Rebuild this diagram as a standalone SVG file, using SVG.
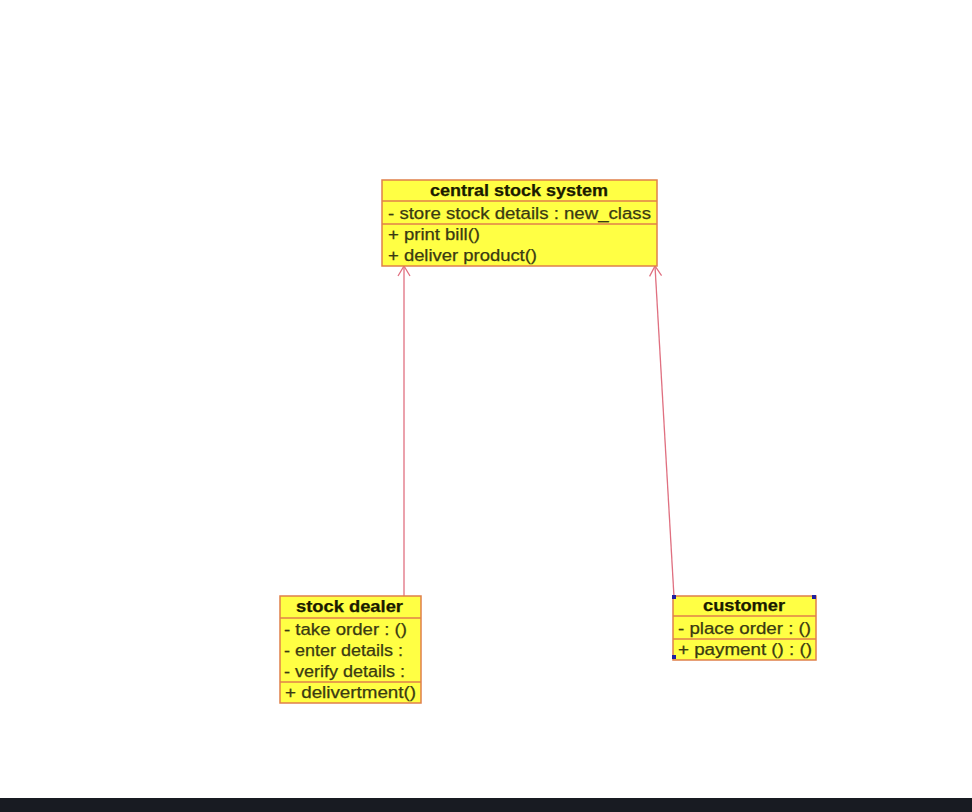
<svg xmlns="http://www.w3.org/2000/svg" width="972" height="812" viewBox="0 0 972 812">
<style>
.box{fill:#ffff44;stroke:#e0804a;stroke-width:1.5}
.sep{stroke:#e0804a;stroke-width:1.5}
.t{font-family:"Liberation Sans",Arial,sans-serif;font-size:16px;fill:#3a3a12;stroke:#3a3a12;stroke-width:0.25}
.h{font-weight:bold;fill:#1a1a00;stroke:#1a1a00}
.conn{stroke:#e07080;stroke-width:1.3;fill:none}
.handle{fill:#2020a0}
</style>
<defs>
<marker id="open" markerWidth="14" markerHeight="14" refX="12" refY="7" orient="auto" markerUnits="userSpaceOnUse">
<path d="M2,1 L12,7 L2,13" fill="none" stroke="#e07080" stroke-width="1.3"/>
</marker>
</defs>
<rect width="972" height="812" fill="#ffffff"/>
<rect x="0" y="798" width="972" height="14" fill="#181b22"/>
<g id="connectors">
<line class="conn" x1="404" y1="596" x2="404" y2="266" marker-end="url(#open)"/>
<line class="conn" x1="674" y1="597" x2="655" y2="266" marker-end="url(#open)"/>
</g>
<g id="central-stock-system">
<rect class="box" x="382" y="180" width="275" height="86"/>
<line class="sep" x1="382" y1="201" x2="657" y2="201"/>
<line class="sep" x1="382" y1="224" x2="657" y2="224"/>
<text class="t h" x="430" y="196" textLength="178" lengthAdjust="spacingAndGlyphs">central stock system</text>
<text class="t" x="388" y="219" textLength="263" lengthAdjust="spacingAndGlyphs">- store stock details : new_class</text>
<text class="t" x="388" y="240" textLength="92" lengthAdjust="spacingAndGlyphs">+ print bill()</text>
<text class="t" x="388" y="261" textLength="149" lengthAdjust="spacingAndGlyphs">+ deliver product()</text>
</g>
<g id="stock-dealer">
<rect class="box" x="280" y="596" width="141" height="107"/>
<line class="sep" x1="280" y1="618" x2="421" y2="618"/>
<line class="sep" x1="280" y1="682" x2="421" y2="682"/>
<text class="t h" x="296" y="612" textLength="107" lengthAdjust="spacingAndGlyphs">stock dealer</text>
<text class="t" x="284" y="635" textLength="123" lengthAdjust="spacingAndGlyphs">- take order : ()</text>
<text class="t" x="284" y="656" textLength="119" lengthAdjust="spacingAndGlyphs">- enter details :</text>
<text class="t" x="284" y="677" textLength="121" lengthAdjust="spacingAndGlyphs">- verify details :</text>
<text class="t" x="285" y="698" textLength="131" lengthAdjust="spacingAndGlyphs">+ delivertment()</text>
</g>
<g id="customer">
<rect class="box" x="673" y="596" width="143" height="64"/>
<line class="sep" x1="673" y1="616" x2="816" y2="616"/>
<line class="sep" x1="673" y1="639" x2="816" y2="639"/>
<text class="t h" x="703" y="611" textLength="82" lengthAdjust="spacingAndGlyphs">customer</text>
<text class="t" x="678" y="634" textLength="133" lengthAdjust="spacingAndGlyphs">- place order : ()</text>
<text class="t" x="678" y="655" textLength="134" lengthAdjust="spacingAndGlyphs">+ payment () : ()</text>
<rect class="handle" x="672" y="595" width="4" height="4"/>
<rect class="handle" x="812" y="595" width="4" height="4"/>
<rect class="handle" x="672" y="655" width="4" height="4"/>
</g>
</svg>
